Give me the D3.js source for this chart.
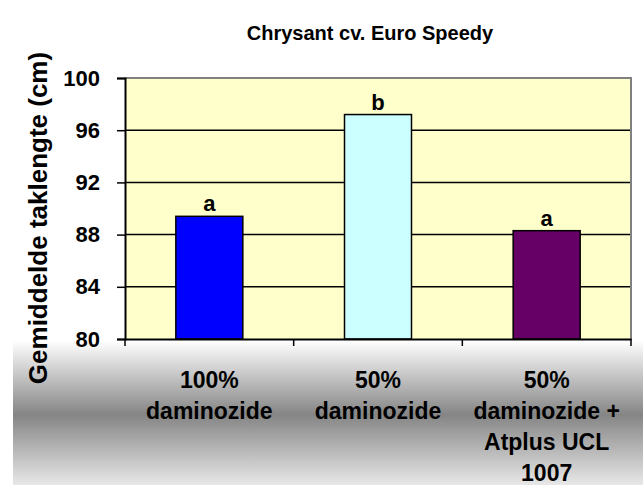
<!DOCTYPE html>
<html>
<head>
<meta charset="utf-8">
<script src="https://cdn.jsdelivr.net/npm/d3@7"></script>
<style>
  html, body { margin: 0; padding: 0; background: #fff; }
  svg { display: block; }
  text { font-family: Arial, "Liberation Sans", sans-serif; font-weight: bold; fill: #000; }
</style>
</head>
<body>
<svg id="chart" width="643" height="485"></svg>
<script>
const categories = [
  ["100%", "daminozide"],
  ["50%", "daminozide"],
  ["50%", "daminozide +", "Atplus UCL", "1007"]
];
const values = [89.4, 97.2, 88.3];
const letters = ["a", "b", "a"];
const barColors = ["#0000FF", "#CCFFFF", "#660066"];
const yTicks = [80, 84, 88, 92, 96, 100];
const title = "Chrysant cv. Euro Speedy";
const yTitle = "Gemiddelde taklengte (cm)";

const W = 643, H = 485;
const m = { left: 125, right: 12, top: 78, bottom: 146 };
const svg = d3.select("#chart");

// background gradient at bottom
const defs = svg.append("defs");
const grad = defs.append("linearGradient").attr("id", "bg").attr("x1", 0).attr("y1", 0).attr("x2", 0).attr("y2", 1);
grad.append("stop").attr("offset", "0%").attr("stop-color", "#ffffff");
grad.append("stop").attr("offset", "22%").attr("stop-color", "#ffffff");
grad.append("stop").attr("offset", "62%").attr("stop-color", "#858585");
grad.append("stop").attr("offset", "100%").attr("stop-color", "#e8e8e8");
svg.append("rect").attr("x", 13).attr("y", 300).attr("width", W - 13).attr("height", H - 300).attr("fill", "url(#bg)");

const x = d3.scaleBand().domain(d3.range(categories.length)).range([m.left, W - m.right]).paddingInner(0).paddingOuter(0);
const y = d3.scaleLinear().domain([80, 100]).range([H - m.bottom, m.top]);

const x0 = m.left, x1 = W - m.right, y0 = y(80), y1 = y(100);

// plot area
svg.append("rect").attr("x", x0).attr("y", y1).attr("width", x1 - x0).attr("height", y0 - y1)
  .attr("fill", "#FFFFCC");

// gridlines
svg.append("g").selectAll("line").data(yTicks.filter(t => t > 80 && t < 100)).join("line")
  .attr("x1", x0).attr("x2", x1).attr("y1", d => y(d)).attr("y2", d => y(d))
  .attr("stroke", "#000").attr("stroke-width", 1.5);

// border top/right
svg.append("path").attr("d", `M${x0},${y1}H${x1}V${y0}`).attr("fill", "none").attr("stroke", "#808080").attr("stroke-width", 2);

// bars
const bw = 67;
svg.append("g").selectAll("rect").data(values).join("rect")
  .attr("x", (d, i) => x(i) + x.bandwidth() / 2 - bw / 2)
  .attr("width", bw)
  .attr("y", d => y(d))
  .attr("height", d => y0 - y(d))
  .attr("fill", (d, i) => barColors[i])
  .attr("stroke", "#000").attr("stroke-width", 1.5);

// letters
svg.append("g").selectAll("text").data(values).join("text")
  .attr("x", (d, i) => x(i) + x.bandwidth() / 2)
  .attr("y", d => y(d) - 5)
  .attr("text-anchor", "middle").attr("font-size", 22)
  .text((d, i) => letters[i]);

// y axis
const yAxis = d3.axisLeft(y).tickValues(yTicks).tickSize(8).tickPadding(17);
const gy = svg.append("g").attr("transform", `translate(${x0},0)`).call(yAxis);
gy.select(".domain").attr("stroke", "#000").attr("stroke-width", 2);
gy.selectAll(".tick line").attr("stroke", "#000").attr("stroke-width", 1.5);
gy.selectAll(".tick text").attr("font-size", 22).attr("font-family", "Arial, 'Liberation Sans', sans-serif").attr("font-weight", "bold").attr("fill", "#000");

// x axis
const xAxis = d3.axisBottom(x).tickValues([]).tickSize(0);
const gx = svg.append("g").attr("transform", `translate(0,${y0})`).call(xAxis);
gx.select(".domain").attr("stroke", "#000").attr("stroke-width", 2);
const bounds = d3.range(categories.length + 1).map(i => i < categories.length ? x(i) : x1);
gx.selectAll("line.tk").data(bounds).join("line").attr("class", "tk")
  .attr("x1", d => d).attr("x2", d => d).attr("y1", 0).attr("y2", 7)
  .attr("stroke", "#000").attr("stroke-width", 1.5);

// x labels
const lab = svg.append("g");
categories.forEach((lines, i) => {
  const t = lab.append("text").attr("text-anchor", "middle").attr("font-size", 23);
  lines.forEach((ln, j) => {
    t.append("tspan").attr("x", x(i) + x.bandwidth() / 2).attr("y", 388 + j * 31).text(ln);
  });
});

// title
svg.append("text").attr("x", 370).attr("y", 40).attr("text-anchor", "middle").attr("font-size", 20).text(title);

// y title
svg.append("text").attr("transform", `translate(47,218) rotate(-90)`).attr("text-anchor", "middle").attr("font-size", 26).text(yTitle);
</script>
</body>
</html>
